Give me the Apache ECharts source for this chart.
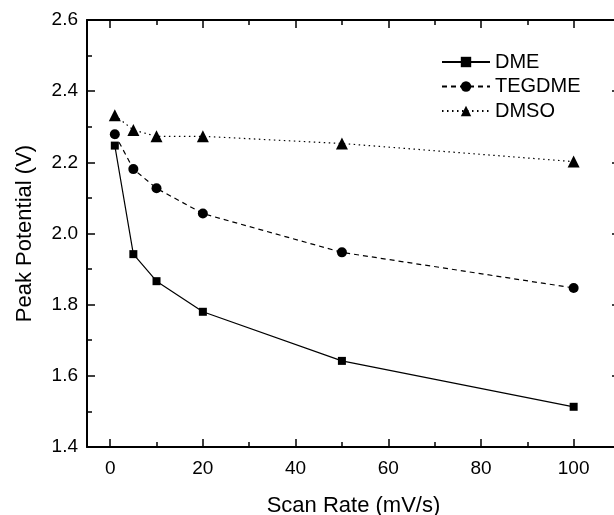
<!DOCTYPE html>
<html>
<head>
<meta charset="utf-8">
<script src="https://cdn.jsdelivr.net/npm/echarts@6/dist/echarts.min.js"></script>
<style>
  html, body { margin: 0; padding: 0; background: #fff; }
  #chart { width: 614px; height: 515px; }
</style>
</head>
<body>
<div id="chart"></div>
<script>
// Scan rates (mV/s) and peak potentials (V) for each electrolyte solvent
const scanRates = [1, 5, 10, 20, 50, 100];
const dme = [2.247, 1.942, 1.866, 1.780, 1.642, 1.513];
const tegdme = [2.279, 2.181, 2.127, 2.056, 1.947, 1.847];
const dmso = [2.332, 2.291, 2.273, 2.273, 2.253, 2.202];

// Tick positions on the scan-rate axis
const xMajorTicks = [0, 20, 40, 60, 80, 100];
const xMinorTicks = [10, 30, 50, 70, 90];

const FONT = '"Liberation Sans", Arial, sans-serif';
const X_MIN = -5, X_MAX = 110;

const pairs = ys => scanRates.map((x, i) => [x, ys[i]]);

const frameLine = () => ({ show: true, onZero: false, lineStyle: { color: '#000', width: 2 } });
const noLine = () => ({ show: false, onZero: false });
const tickStyle = () => ({ color: '#000', width: 1.5 });

// x axis helper: one axis per tick family and side, all sharing the same scale
function xAxisDef(position, ticks, len, withLine, extra) {
  return Object.assign({
    type: 'value', position: position, min: X_MIN, max: X_MAX,
    axisLine: withLine ? frameLine() : noLine(),
    axisTick: { show: true, inside: true, length: len, customValues: ticks, lineStyle: tickStyle() },
    axisLabel: { show: false },
    splitLine: { show: false }
  }, extra || {});
}

// y axis helper: left carries labels and title, right only mirrors the ticks
function yAxisDef(position, extra) {
  return Object.assign({
    type: 'value', position: position, min: 1.4, max: 2.6, interval: 0.2,
    axisLine: frameLine(),
    axisTick: { show: true, inside: true, length: 8, lineStyle: tickStyle() },
    minorTick: { show: true, splitNumber: 2, length: 5, lineStyle: tickStyle() },
    axisLabel: { show: false },
    splitLine: { show: false }
  }, extra || {});
}

const chart = echarts.init(document.getElementById('chart'));

chart.setOption({
  backgroundColor: '#fff',
  animation: false,
  grid: { left: 87, top: 20, right: -6, bottom: 68, outerBoundsMode: 'none' },
  legend: {
    orient: 'vertical',
    left: 436,
    top: 47,
    itemWidth: 48,
    itemHeight: 13,
    itemGap: 4.5,
    textStyle: { fontFamily: FONT, fontSize: 20, color: '#000', lineHeight: 20 },
    data: ['DME', 'TEGDME', 'DMSO']
  },
  xAxis: [
    xAxisDef('bottom', xMajorTicks, 8, true, {
      name: 'Scan Rate (mV/s)', nameLocation: 'middle', nameGap: 48,
      nameTextStyle: { fontFamily: FONT, fontSize: 22, color: '#000' },
      axisLabel: { show: true, customValues: xMajorTicks, margin: 12,
                   fontFamily: FONT, fontSize: 19, color: '#000' }
    }),
    xAxisDef('bottom', xMinorTicks, 5, false),
    xAxisDef('top', xMajorTicks, 8, true),
    xAxisDef('top', xMinorTicks, 5, false)
  ],
  yAxis: [
    yAxisDef('left', {
      name: 'Peak Potential (V)', nameLocation: 'middle', nameGap: 51,
      nameTextStyle: { fontFamily: FONT, fontSize: 22, color: '#000' },
      axisLabel: { show: true, margin: 9, fontFamily: FONT, fontSize: 19, color: '#000',
                   formatter: v => v.toFixed(1) }
    }),
    yAxisDef('right')
  ],
  series: [
    {
      name: 'DME', type: 'line', data: pairs(dme),
      symbol: 'rect', symbolSize: 8,
      itemStyle: { color: '#000' },
      lineStyle: { color: '#000', width: 1.2, type: 'solid' }
    },
    {
      name: 'TEGDME', type: 'line', data: pairs(tegdme),
      symbol: 'circle', symbolSize: 10,
      itemStyle: { color: '#000' },
      lineStyle: { color: '#000', width: 1.2, type: [5, 4] }
    },
    {
      name: 'DMSO', type: 'line', data: pairs(dmso),
      symbol: 'triangle', symbolSize: 12,
      itemStyle: { color: '#000' },
      lineStyle: { color: '#000', width: 1.2, type: [1.5, 3.5] }
    }
  ]
});
</script>
</body>
</html>
